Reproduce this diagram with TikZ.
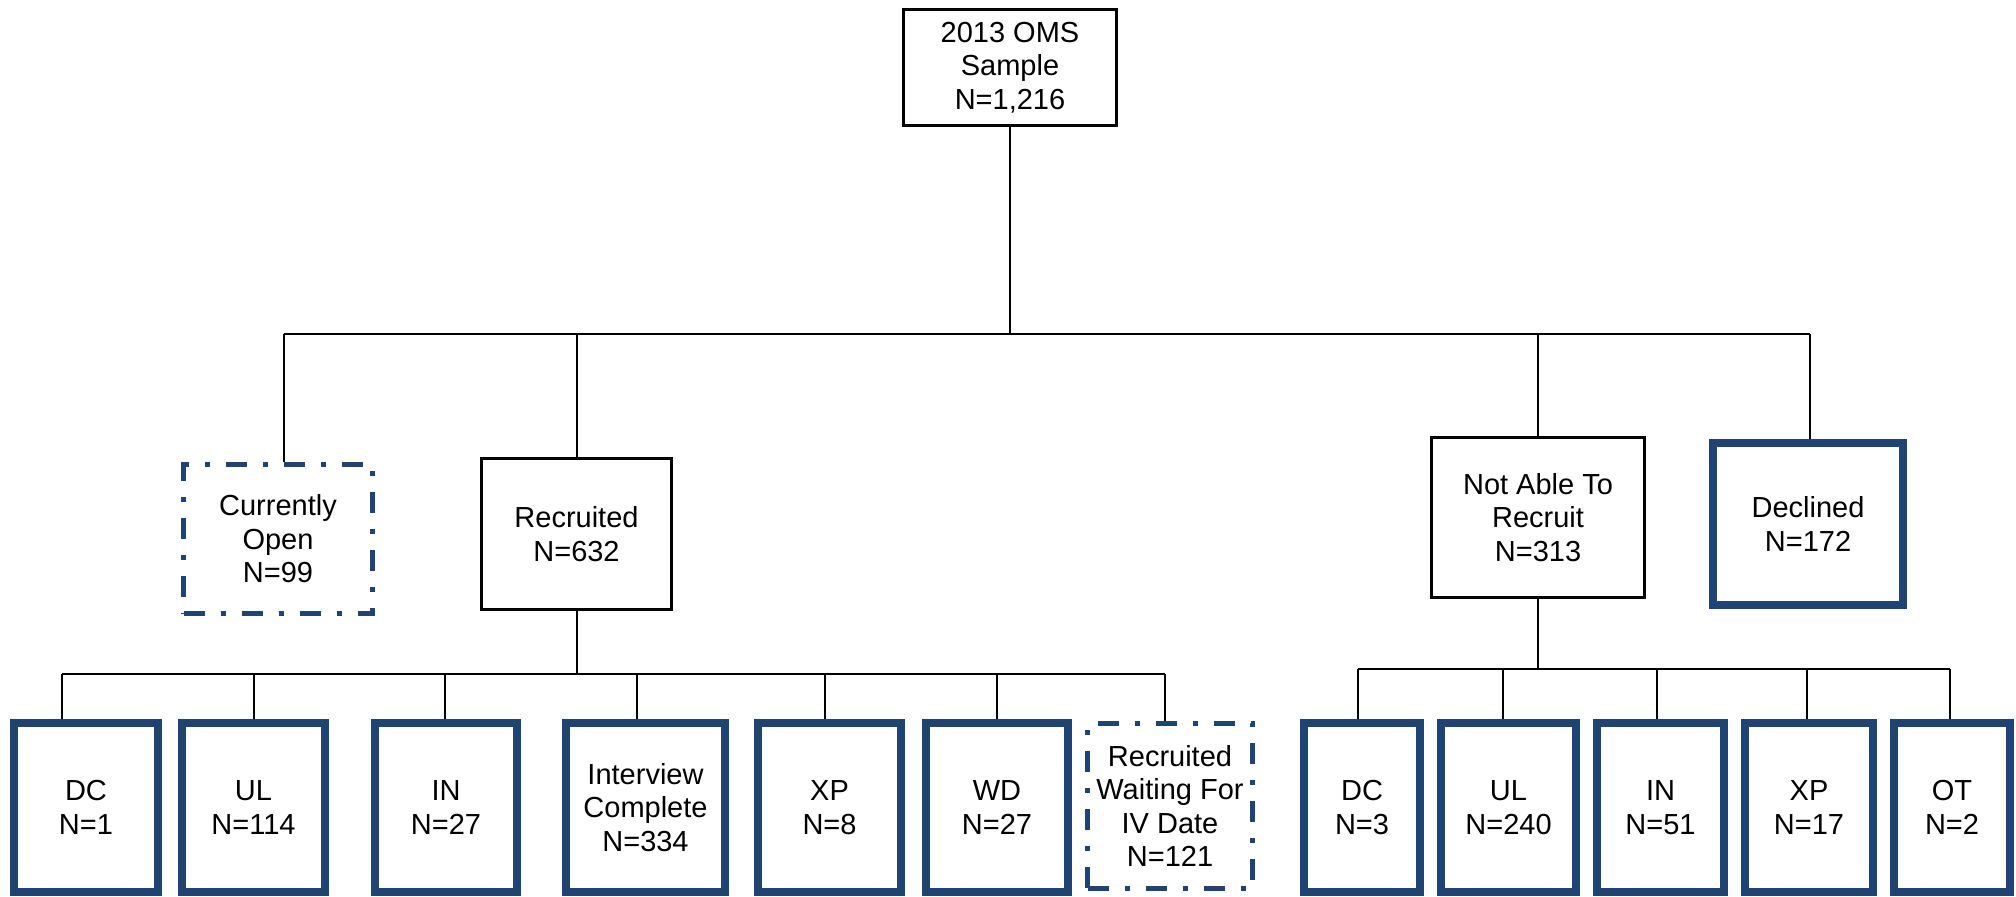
\documentclass[tikz,border=0pt]{standalone}
\usepackage{fontspec}
\setmainfont{Liberation Sans}
\usetikzlibrary{positioning,calc}
\definecolor{navy}{RGB}{31,68,115}

\begin{document}
\begin{tikzpicture}[x=0.5pt,y=-0.5pt,
  every node/.style={font=\fontsize{14.5}{16.7}\selectfont,align=center,inner sep=0pt},
  blkbox/.style={rectangle,draw,line width=1.3pt},
  navybox/.style={rectangle,draw=navy,line width=4pt,minimum height=84.5pt},
  dashbox/.style={rectangle,draw=navy,line width=2.5pt,dash pattern=on 10.5pt off 8pt on 2.5pt off 8pt},
  link/.style={line width=1pt}]

\useasboundingbox (0,0) rectangle (2016,896);

%%%%%%%%%%%%%%%%%%%%%% FIRST LEVEL

\node[blkbox,minimum width=106.7pt,minimum height=58.2pt] (Sample) at (1010,67.5) {2013 OMS\\Sample\\N=1,216};

\node[dashbox,minimum width=94.5pt,minimum height=74.5pt] (Open) at (278,539) {Currently\\Open\\N=99};
\node[blkbox,minimum width=95.2pt,minimum height=75.7pt] (Recr) at (576.5,534) {Recruited\\N=632};
\node[blkbox,minimum width=106.7pt,minimum height=80.2pt] (NotAble) at (1538,517.5) {Not Able To\\Recruit\\N=313};
\node[navybox,minimum width=95pt,minimum height=81pt] (Decl) at (1808,524) {Declined\\N=172};

%%%%%%%%%%%%%%%%%%%%%% RECRUITED

\node[navybox,minimum width=72pt] (rDC) at (86,807.5) {DC\\N=1};
\node[navybox,minimum width=71.5pt] (rUL) at (253.5,807.5) {UL\\N=114};
\node[navybox,minimum width=71pt] (rIN) at (446,807.5) {IN\\N=27};
\node[navybox,minimum width=79.5pt] (rIC) at (645.5,807.5) {Interview\\Complete\\N=334};
\node[navybox,minimum width=71.5pt] (rXP) at (829.5,807.5) {XP\\N=8};
\node[navybox,minimum width=71pt] (rWD) at (997,807.5) {WD\\N=27};
\node[dashbox,minimum width=82.5pt,minimum height=82.5pt] (rRW) at (1170,806) {Recruited\\Waiting For\\IV Date\\N=121};

%%%%%%%%%%%%%%%%%%%%%% NOT ABLE TO RECRUIT

\node[navybox,minimum width=58pt] (nDC) at (1362,807.5) {DC\\N=3};
\node[navybox,minimum width=67.5pt] (nUL) at (1508.5,807.5) {UL\\N=240};
\node[navybox,minimum width=63.5pt] (nIN) at (1660.5,807.5) {IN\\N=51};
\node[navybox,minimum width=64pt] (nXP) at (1809,807.5) {XP\\N=17};
\node[navybox,minimum width=58pt] (nOT) at (1952,807.5) {OT\\N=2};

%%%%%%%%%%%%%%%%%%%%%% CONNECTORS

\coordinate (hubL) at (284,334);
\coordinate (hubR) at (1810,334);
\draw[link] (Sample.south) -- (Sample.south |- hubL);
\draw[link] (hubL) -- (hubR);
\draw[link] (hubL) -- (hubL |- Open.north);
\draw[link] (Recr.north |- hubL) -- (Recr.north);
\draw[link] (NotAble.north |- hubL) -- (NotAble.north);
\draw[link] (hubR) -- (hubR |- Decl.north);

\coordinate (recL) at (62,674);
\coordinate (recR) at (1165,674);
\draw[link] (Recr.south) -- (Recr.south |- recL);
\draw[link] (recL) -- (recR);
\foreach \b/\x in {rDC/62,rUL/254,rIN/445,rIC/637,rXP/825,rWD/997,rRW/1165}
  \draw[link] (\x,674) -- (\b.north -| \x,674);

\coordinate (naL) at (1358,669);
\coordinate (naR) at (1950,669);
\draw[link] (NotAble.south) -- (NotAble.south |- naL);
\draw[link] (naL) -- (naR);
\foreach \b/\x in {nDC/1358,nUL/1503,nIN/1657,nXP/1807,nOT/1950}
  \draw[link] (\x,669) -- (\b.north -| \x,669);

\end{tikzpicture}
\end{document}
